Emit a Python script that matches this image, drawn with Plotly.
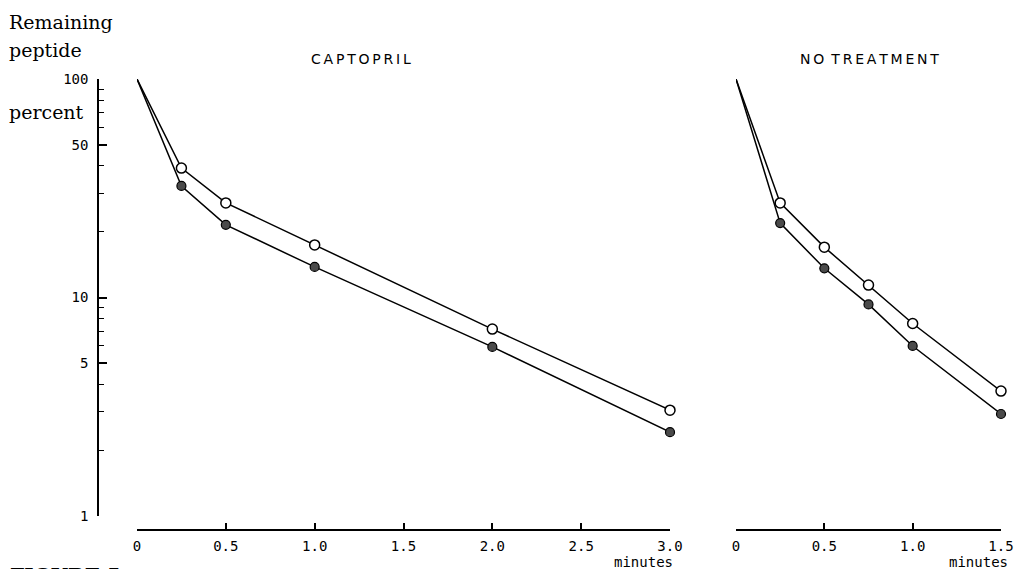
import plotly.graph_objects as go

# Sampling times (minutes)
time_captopril = [0, 0.25, 0.5, 1.0, 2.0, 3.0]
time_untreated = [0, 0.25, 0.5, 0.75, 1.0, 1.5]

# Remaining peptide (percent)
captopril_open = [100, 39.1, 27.1, 17.4, 7.17, 3.05]
captopril_filled = [100, 32.4, 21.5, 13.8, 5.94, 2.42]
untreated_open = [100, 27.1, 17.0, 11.4, 7.6, 3.73]
untreated_filled = [100, 21.9, 13.6, 9.3, 6.0, 2.93]

# Axis ticks
y_major = [1, 5, 10, 50, 100]
y_major_text = ["1", "5", "10", "50", "100"]
y_minor = [2, 3, 4, 6, 7, 8, 9, 20, 30, 40, 60, 70, 80, 90]
x_left_ticks = [0, 0.5, 1.0, 1.5, 2.0, 2.5, 3.0]
x_left_text = ["0", "0.5", "1.0", "1.5", "2.0", "2.5", "3.0"]
x_right_ticks = [0, 0.5, 1.0, 1.5]
x_right_text = ["0", "0.5", "1.0", "1.5"]

W, H = 1017, 569


def px(x):
    return x / W


def py(y):
    return 1 - y / H


mono = dict(family="DejaVu Sans Mono", size=14, color="black")
serif = dict(family="DejaVu Serif", size=19, color="black")


def marker_sizes(n, size):
    # the starting 100 % point is drawn as a bare line end, no symbol
    return [0] + [size] * (n - 1)


def open_marker(n):
    return dict(symbol="circle", size=marker_sizes(n, 10), color="white",
                opacity=1, line=dict(color="black", width=1.5))


def filled_marker(n):
    return dict(symbol="circle", size=marker_sizes(n, 9), color="#4a4a4a",
                opacity=1, line=dict(color="black", width=1.2))


line_style = dict(color="black", width=1.5)

fig = go.Figure()
fig.add_trace(go.Scatter(x=time_captopril, y=captopril_filled, mode="lines+markers",
                         line=line_style, marker=filled_marker(len(time_captopril)),
                         cliponaxis=False, xaxis="x", yaxis="y"))
fig.add_trace(go.Scatter(x=time_captopril, y=captopril_open, mode="lines+markers",
                         line=line_style, marker=open_marker(len(time_captopril)),
                         cliponaxis=False, xaxis="x", yaxis="y"))
fig.add_trace(go.Scatter(x=time_untreated, y=untreated_filled, mode="lines+markers",
                         line=line_style, marker=filled_marker(len(time_untreated)),
                         cliponaxis=False, xaxis="x2", yaxis="y2"))
fig.add_trace(go.Scatter(x=time_untreated, y=untreated_open, mode="lines+markers",
                         line=line_style, marker=open_marker(len(time_untreated)),
                         cliponaxis=False, xaxis="x2", yaxis="y2"))

y_domain = [py(516), py(79)]
x_pos = py(530)

axis_common = dict(showgrid=False, zeroline=False, showline=True,
                   linecolor="black", linewidth=1.5, ticks="inside",
                   tickcolor="black", tickwidth=1.5, automargin=False,
                   tickfont=mono)

fig.update_layout(
    width=W, height=H,
    margin=dict(l=0, r=0, t=0, b=0),
    paper_bgcolor="white", plot_bgcolor="white",
    showlegend=False,
    xaxis=dict(domain=[px(137), px(670)], range=[0, 3], anchor="free",
               position=x_pos, tickmode="array", tickvals=x_left_ticks,
               ticktext=x_left_text, ticklen=6, ticklabelstandoff=3,
               **axis_common),
    xaxis2=dict(domain=[px(736), px(1001)], range=[0, 1.5], anchor="free",
                position=x_pos, tickmode="array", tickvals=x_right_ticks,
                ticktext=x_right_text, ticklen=6, ticklabelstandoff=3,
                **axis_common),
    yaxis=dict(type="log", range=[0, 2], domain=y_domain, anchor="free",
               position=px(98), tickmode="array", tickvals=y_major,
               ticktext=y_major_text, ticklen=8, ticklabelstandoff=6,
               minor=dict(ticks="inside", tickmode="array", tickvals=y_minor,
                          ticklen=5, tickcolor="black", tickwidth=1.2,
                          showgrid=False),
               **axis_common),
    yaxis2=dict(type="log", range=[0, 2], domain=y_domain, anchor="x2",
                visible=False),
)

title_font = dict(family="DejaVu Sans", size=14, color="black")
annotations = [
    dict(text="Remaining", x=px(7), y=py(9), xanchor="left", yanchor="top", font=serif),
    dict(text="peptide", x=px(7), y=py(37), xanchor="left", yanchor="top", font=serif),
    dict(text="percent", x=px(7), y=py(99), xanchor="left", yanchor="top", font=serif),
    dict(text="C\u2009A\u2009P\u2009T\u2009O\u2009P\u2009R\u2009I\u2009L", x=px(361), y=py(59),
         xanchor="center", yanchor="middle", font=title_font),
    dict(text="N\u2009O\u2002T\u2009R\u2009E\u2009A\u2009T\u2009M\u2009E\u2009N\u2009T",
         x=px(869), y=py(59), xanchor="center", yanchor="middle", font=title_font),
    dict(text="minutes", x=px(643), y=py(562), xanchor="center", yanchor="middle",
         font=dict(family="DejaVu Sans Mono", size=14, color="black")),
    dict(text="minutes", x=px(978), y=py(562), xanchor="center", yanchor="middle",
         font=dict(family="DejaVu Sans Mono", size=14, color="black")),
    dict(text="<b>FIGURE 5</b>", x=px(8), y=py(562), xanchor="left", yanchor="top",
         font=dict(family="DejaVu Serif", size=20, color="black")),
]
for a in annotations:
    a.update(xref="paper", yref="paper", showarrow=False)
fig.update_layout(annotations=annotations)

fig.write_html("out.html")
